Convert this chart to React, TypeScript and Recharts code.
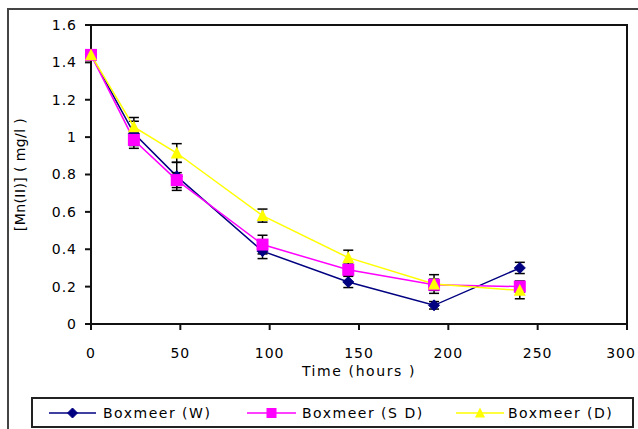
import React from "react";
import { LineChart, Line, XAxis, YAxis, ErrorBar } from "recharts";

// sampling times (hours) and Mn(II) readings per site
const hours = [0, 24, 48, 96, 144, 192, 240];
const wValues = [1.44, 1.02, 0.79, 0.39, 0.225, 0.1, 0.3];
const wErrors = [0, 0.065, 0.075, 0.04, 0.03, 0.02, 0.03];
const sdValues = [1.44, 0.985, 0.77, 0.425, 0.29, 0.21, 0.2];
const sdErrors = [0, 0.045, 0.04, 0.05, 0.03, 0.03, 0.03];
const dValues = [1.44, 1.055, 0.915, 0.58, 0.355, 0.214, 0.18];
const dErrors = [0, 0.05, 0.05, 0.035, 0.04, 0.05, 0.045];

const xTicks = [0, 50, 100, 150, 200, 250, 300];
const yTicks = [0, 0.2, 0.4, 0.6, 0.8, 1, 1.2, 1.4, 1.6];

const seriesNames = ["Boxmeer (W)", "Boxmeer (S D)", "Boxmeer (D)"];
const seriesColors = ["#000080", "#FF00FF", "#FFFF00"];

const data = hours.map((h, i) => ({
  h,
  w: wValues[i],
  wErr: wErrors[i],
  sd: sdValues[i],
  sdErr: sdErrors[i],
  d: dValues[i],
  dErr: dErrors[i],
}));

const W = 638;
const H = 429;
const MARGIN = { top: 25, right: 11, left: 0, bottom: 45 };
const Y_AXIS_W = 91;
const X_AXIS_H = 60;

const FONT = "'DejaVu Sans', Verdana, sans-serif";
const tickStyle = { fontSize: 14, fontFamily: FONT, fill: "#000", letterSpacing: 1 };
const axisStroke = { stroke: "#111", strokeWidth: 2 };

function Diamond({ cx, cy, r = 5.5 }: { cx: number; cy: number; r?: number }) {
  return (
    <polygon
      points={`${cx},${cy - r} ${cx + r},${cy} ${cx},${cy + r} ${cx - r},${cy}`}
      fill="#000080"
      stroke="#000080"
    />
  );
}

function Square({ cx, cy, s = 12 }: { cx: number; cy: number; s?: number }) {
  return <rect x={cx - s / 2} y={cy - s / 2} width={s} height={s} fill="#FF00FF" />;
}

function Triangle({ cx, cy, s = 12 }: { cx: number; cy: number; s?: number }) {
  const h = s * 0.9;
  return (
    <polygon
      points={`${cx},${cy - h / 2 - 1} ${cx + s / 2},${cy + h / 2} ${cx - s / 2},${cy + h / 2}`}
      fill="#FFFF00"
    />
  );
}

const markers = [Diamond, Square, Triangle];

function makeDot(idx: number) {
  const Shape = markers[idx];
  return (props: any) => {
    const { cx, cy, index } = props;
    if (cx == null || cy == null) return <g key={`m${idx}-${index}`} />;
    return (
      <g key={`m${idx}-${index}`}>
        <Shape cx={cx} cy={cy} />
      </g>
    );
  };
}

// x tick text; the last label is nudged left so it stays inside the frame
function XTick(props: any) {
  const { x, y, payload } = props;
  const last = payload.value === xTicks[xTicks.length - 1];
  return (
    <text
      x={last ? x - 6 : x}
      y={y}
      dy="0.71em"
      textAnchor="middle"
      fontFamily={FONT}
      fontSize={14}
      letterSpacing={1}
      fill="#000"
    >
      {payload.value}
    </text>
  );
}

function YLabel(props: any) {
  const vb = props.viewBox || {};
  const x = 20;
  const y = vb.y + vb.height / 2;
  return (
    <text
      x={x}
      y={y}
      transform={`rotate(-90, ${x}, ${y})`}
      textAnchor="middle"
      dominantBaseline="central"
      fontFamily={FONT}
      fontSize={14}
      letterSpacing={0.4}
      fill="#000"
    >
      [Mn(II)] ( mg/l )
    </text>
  );
}

function XLabel(props: any) {
  const vb = props.viewBox || {};
  return (
    <text
      x={vb.x + vb.width / 2}
      y={vb.y + 52}
      textAnchor="middle"
      fontFamily={FONT}
      fontSize={14}
      letterSpacing={1.6}
      fill="#000"
    >
      Time (hours )
    </text>
  );
}

// box around the plotting area, sized from the chart margins
function PlotFrame() {
  const x = MARGIN.left + Y_AXIS_W;
  const y = MARGIN.top;
  const w = W - MARGIN.right - x;
  const h = H - MARGIN.bottom - X_AXIS_H - y;
  return (
    <svg width={W} height={H} style={{ position: "absolute", left: 0, top: 0 }}>
      <rect x={x} y={y} width={w} height={h} fill="none" stroke="#111" strokeWidth={2} />
    </svg>
  );
}

// legend entries: line segment start/end and text start, relative to the legend box
const legendItems = [
  { x1: 18, x2: 65, tx: 72 },
  { x1: 216, x2: 265, tx: 271 },
  { x1: 425, x2: 473, tx: 477 },
];

function ChartLegend() {
  return (
    <svg
      width={603}
      height={31}
      style={{ position: "absolute", left: 31, top: 397 }}
    >
      <rect x={1} y={1} width={601} height={29} fill="#fff" stroke="#222" strokeWidth={2} />
      {legendItems.map((it, i) => {
        const Shape = markers[i];
        const cy = 16;
        const cx = (it.x1 + it.x2) / 2;
        return (
          <g key={seriesNames[i]}>
            <line x1={it.x1} y1={cy} x2={it.x2} y2={cy} stroke={seriesColors[i]} strokeWidth={1.5} />
            <Shape cx={cx} cy={cy} {...(i === 0 ? { r: 5 } : { s: 10 })} />
            <text
              x={it.tx}
              y={cy + 5}
              fontFamily={FONT}
              fontSize={14}
              letterSpacing={1.5}
              fill="#000"
            >
              {seriesNames[i]}
            </text>
          </g>
        );
      })}
    </svg>
  );
}

export default function App() {
  return (
    <div
      style={{
        position: "absolute",
        left: 0,
        top: 0,
        width: W,
        height: H,
        overflow: "hidden",
        background: "#fff",
      }}
    >
      <div
        style={{
          position: "absolute",
          left: 7,
          top: 8,
          width: 700,
          height: 500,
          border: "2px solid #444",
          boxSizing: "border-box",
        }}
      />
      <PlotFrame />
      <div style={{ position: "absolute", left: 0, top: 0 }}>
        <LineChart width={W} height={H} data={data} margin={MARGIN}>
          <XAxis
            dataKey="h"
            type="number"
            domain={[0, 300]}
            ticks={xTicks}
            interval={0}
            height={X_AXIS_H}
            tickSize={6}
            tickMargin={18}
            tick={<XTick />}
            axisLine={axisStroke}
            tickLine={axisStroke}
            label={<XLabel />}
          />
          <YAxis
            type="number"
            domain={[0, 1.6]}
            ticks={yTicks}
            interval={0}
            width={Y_AXIS_W}
            tickSize={6}
            tickMargin={8}
            tick={tickStyle}
            axisLine={axisStroke}
            tickLine={axisStroke}
            label={<YLabel />}
          />
          <Line
            dataKey="w"
            stroke={seriesColors[0]}
            strokeWidth={1.5}
            dot={makeDot(0)}
            activeDot={false}
            isAnimationActive={false}
          >
            <ErrorBar dataKey="wErr" direction="y" width={5} stroke="#000" strokeWidth={1.5} />
          </Line>
          <Line
            dataKey="sd"
            stroke={seriesColors[1]}
            strokeWidth={1.5}
            dot={makeDot(1)}
            activeDot={false}
            isAnimationActive={false}
          >
            <ErrorBar dataKey="sdErr" direction="y" width={5} stroke="#000" strokeWidth={1.5} />
          </Line>
          <Line
            dataKey="d"
            stroke={seriesColors[2]}
            strokeWidth={1.5}
            dot={makeDot(2)}
            activeDot={false}
            isAnimationActive={false}
          >
            <ErrorBar dataKey="dErr" direction="y" width={5} stroke="#000" strokeWidth={1.5} />
          </Line>
        </LineChart>
      </div>
      <ChartLegend />
    </div>
  );
}
